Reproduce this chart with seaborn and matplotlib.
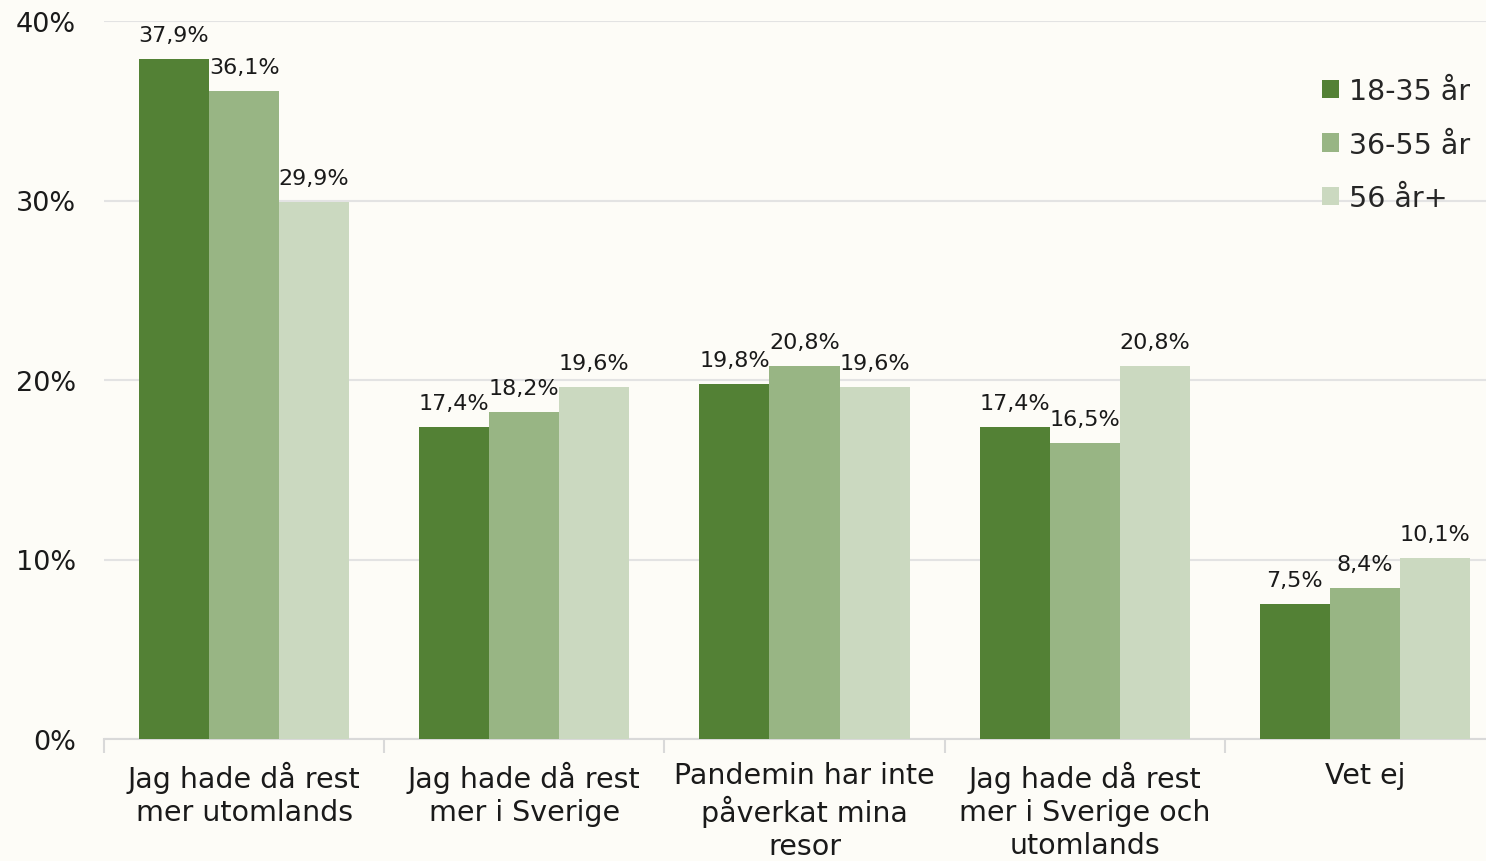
import numpy as np
import pandas as pd
import matplotlib
matplotlib.use('Agg')
import matplotlib.pyplot as plt
import seaborn as sns

# Data
categories = ['Jag hade då rest\nmer utomlands',
              'Jag hade då rest\nmer i Sverige',
              'Pandemin har inte\npåverkat mina\nresor',
              'Jag hade då rest\nmer i Sverige och\nutomlands',
              'Vet ej']
groups = ['18-35 år', '36-55 år', '56 år+']
young = [37.9, 17.4, 19.8, 17.4, 7.5]
middle = [36.1, 18.2, 20.8, 16.5, 8.4]
old = [29.9, 19.6, 19.6, 20.8, 10.1]
colors = ['#538135', '#98B584', '#CBD9C0']

rows = []
for g, vals in zip(groups, [young, middle, old]):
    for c, v in zip(categories, vals):
        rows.append({'Kategori': c, 'Grupp': g, 'Andel': v})
df = pd.DataFrame(rows)

sns.set_style('white')
plt.rcParams['font.family'] = ['DejaVu Sans']
bg = '#FDFCF7'

fig = plt.figure(figsize=(14.86, 8.62), dpi=100, facecolor=bg)
ax = fig.add_axes([104/1486, 122/862, (1505-104)/1486, 718/862])
ax.set_facecolor(bg)

sns.barplot(data=df, x='Kategori', y='Andel', hue='Grupp', palette=colors,
            width=0.75, saturation=1, linewidth=0, edgecolor='none', ax=ax, zorder=3)

for cont, vals in zip(ax.containers, [young, middle, old]):
    ax.bar_label(cont, labels=[f'{v:.1f}%'.replace('.', ',') for v in vals],
                 padding=10, fontsize=16, color='#1a1a1a')

ax.set_ylim(0, 40)
ax.set_xlim(-0.5, 4.5)
ax.set_yticks([0, 10, 20, 30, 40])
ax.set_yticklabels(['0%', '10%', '20%', '30%', '40%'])
ax.tick_params(axis='y', length=0, pad=20, labelsize=19.5, labelcolor='#1a1a1a')
ax.tick_params(axis='x', which='major', length=0, pad=16, labelsize=20.5, labelcolor='#1a1a1a')
ax.set_xticks(np.arange(-0.5, 5, 1), minor=True)
ax.tick_params(axis='x', which='minor', bottom=True, length=10, width=1.5, color='#D9D9D9')
for lab in ax.get_xticklabels():
    lab.set_linespacing(1.22)
ax.grid(axis='y', color='#E3E3E3', linewidth=1.5, zorder=0)
ax.set_xlabel('')
ax.set_ylabel('')
for s in ['left', 'right', 'top']:
    ax.spines[s].set_visible(False)
ax.spines['bottom'].set_color('#D9D9D9')
ax.spines['bottom'].set_linewidth(1.5)

leg = ax.legend(loc='upper left', bbox_to_anchor=(1302/1486, 1 - 58/862), bbox_transform=fig.transFigure,
                frameon=False, fontsize=20.5, handlelength=0.6, handleheight=0.6,
                handletextpad=0.35, labelspacing=0.9, borderpad=0.2)

fig.savefig('out.png', dpi=100, facecolor=bg)
